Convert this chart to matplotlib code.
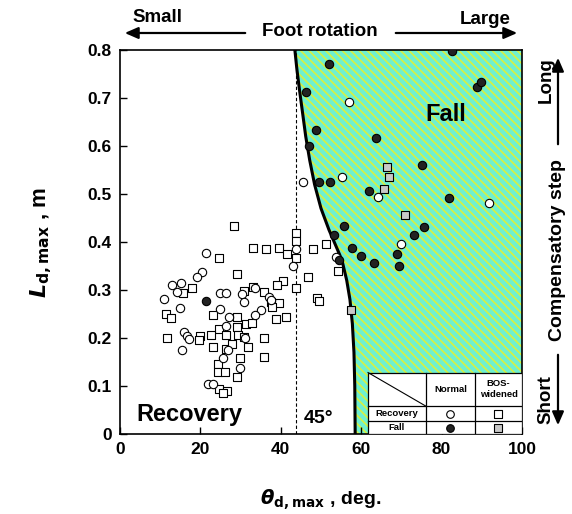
import matplotlib
matplotlib.use("Agg")
import matplotlib.pyplot as plt
from matplotlib.patches import Rectangle, FancyArrowPatch

plt.rcParams['font.family'] = ['Liberation Sans', 'DejaVu Sans']
plt.rcParams['font.weight'] = 'bold'
plt.rcParams['hatch.linewidth'] = 1.2

# ---- data ----
rec_norm_theta = [21.4, 20.3, 19.2, 15.2, 12.9, 14.1, 24.9, 26.4, 30.3, 33.6, 10.9, 14.9, 30.9, 37.1,
                  37.5, 24.9, 27.2, 35.0, 33.6, 26.4, 15.8, 16.6, 17.2, 31.1, 15.3, 26.9, 25.5, 29.8,
                  21.8, 23.2, 43.9, 43.1, 53.7, 56.9, 55.2, 45.6, 64.3, 91.9, 70.0]
rec_norm_L = [0.378, 0.338, 0.328, 0.315, 0.310, 0.295, 0.293, 0.294, 0.292, 0.305, 0.281, 0.263, 0.274, 0.285,
              0.279, 0.260, 0.243, 0.258, 0.248, 0.225, 0.213, 0.204, 0.197, 0.199, 0.174, 0.175, 0.159, 0.138,
              0.104, 0.104, 0.385, 0.349, 0.368, 0.692, 0.536, 0.526, 0.494, 0.481, 0.396]

rec_bos_theta = [28.4, 24.7, 33.0, 36.3, 39.6, 41.5, 43.8, 43.8, 43.8, 48.1, 51.2, 54.2, 46.8, 40.5,
                 43.8, 48.9, 49.5, 41.3, 29.2, 17.8, 15.6, 30.9, 33.0, 35.8, 39.0, 37.5, 39.6, 37.7,
                 23.2, 29.0, 38.8, 11.4, 12.6, 24.7, 29.2, 31.3, 32.8, 11.6, 19.9, 19.7, 22.6, 26.4,
                 29.4, 30.9, 35.8, 23.1, 26.4, 27.8, 31.8, 29.9, 35.9, 24.5, 24.5, 26.2, 29.0, 24.7,
                 26.5, 25.7]
rec_bos_L = [0.434, 0.366, 0.388, 0.385, 0.388, 0.374, 0.419, 0.402, 0.366, 0.385, 0.396, 0.340, 0.328, 0.319,
             0.305, 0.284, 0.277, 0.243, 0.333, 0.305, 0.293, 0.297, 0.307, 0.295, 0.311, 0.274, 0.272, 0.265,
             0.248, 0.244, 0.239, 0.251, 0.241, 0.218, 0.222, 0.229, 0.231, 0.201, 0.204, 0.196, 0.206, 0.206,
             0.206, 0.203, 0.201, 0.181, 0.178, 0.188, 0.181, 0.159, 0.160, 0.146, 0.130, 0.130, 0.119, 0.094,
             0.090, 0.086]

fall_norm_theta = [21.4, 82.7, 52.1, 46.3, 88.7, 89.8, 48.8, 63.6, 47.1, 49.6, 52.3, 75.0, 62.0, 81.9,
                   55.6, 53.3, 57.6, 60.0, 54.5, 63.3, 68.8, 69.5, 73.2, 75.6]
fall_norm_L = [0.277, 0.797, 0.771, 0.713, 0.722, 0.733, 0.633, 0.617, 0.601, 0.524, 0.524, 0.560, 0.507, 0.492,
               0.433, 0.415, 0.387, 0.371, 0.3625, 0.356, 0.375, 0.349, 0.415, 0.431]

fall_bos_theta = [66.3, 66.9, 65.7, 70.8, 57.4]
fall_bos_L = [0.557, 0.536, 0.510, 0.456, 0.258]

boundary_theta = [43.5, 44.0, 44.6, 45.4, 46.2, 47.2, 48.4, 50.0, 52.0, 53.8, 55.2, 56.4, 57.2, 57.8, 58.2, 58.4, 58.5]
boundary_L = [0.80, 0.76, 0.72, 0.67, 0.62, 0.57, 0.52, 0.47, 0.425, 0.39, 0.3625, 0.32, 0.28, 0.23, 0.17, 0.10, 0.0]

xticks = [0, 20, 40, 60, 80, 100]
yticks = [0, 0.1, 0.2, 0.3, 0.4, 0.5, 0.6, 0.7, 0.8]
ytick_labels = ['0', '0.1', '0.2', '0.3', '0.4', '0.5', '0.6', '0.7', '0.8']

# ---- figure ----
fig = plt.figure(figsize=(5.72, 5.14), dpi=100)
ax = fig.add_axes([120/572, 80/514, 402/572, 384/514])
ax.set_xlim(0, 100)
ax.set_ylim(0, 0.8)

ax.fill_betweenx(boundary_L, boundary_theta, 100, facecolor='#6EF0D0', edgecolor='#D8F040',
                 hatch='\\\\\\\\', linewidth=0, zorder=0)
ax.plot(boundary_theta, boundary_L, color='black', lw=2.2, zorder=3)
ax.plot([43.7, 43.7], [0, 0.8], color='black', lw=0.8, ls=(0, (3, 2)), zorder=1)

ms = 36
ax.scatter(rec_bos_theta, rec_bos_L, marker='s', s=ms, facecolor='white', edgecolor='black', linewidth=0.8, zorder=4)
ax.scatter(rec_norm_theta, rec_norm_L, marker='o', s=ms, facecolor='white', edgecolor='black', linewidth=0.8, zorder=4)
ax.scatter(fall_bos_theta, fall_bos_L, marker='s', s=ms, facecolor='#C8C8C8', edgecolor='black', linewidth=0.8, zorder=4)
ax.scatter(fall_norm_theta, fall_norm_L, marker='o', s=ms, facecolor='#222222', edgecolor='black', linewidth=0.8, zorder=4)

ax.set_xticks(xticks)
ax.set_xticklabels([str(v) for v in xticks])
ax.set_yticks(yticks)
ax.set_yticklabels(ytick_labels)
ax.tick_params(direction='in', length=5, width=1, labelsize=12.5, pad=6)
for lab in ax.get_xticklabels() + ax.get_yticklabels():
    lab.set_fontweight('bold')
for s in ax.spines.values():
    s.set_linewidth(1.2)

ax.text(17.2, 0.04, 'Recovery', fontsize=17, fontweight='bold', ha='center', va='center', zorder=6)
ax.text(49.3, 0.033, '45°', fontsize=14, fontweight='bold', ha='center', va='center', zorder=6)
ax.text(81.0, 0.666, 'Fall', fontsize=17, fontweight='bold', ha='center', va='center', zorder=6)

# ---- legend table ----
tx = [61.7, 76.1, 88.3, 100.0]
ty = [0.128, 0.058, 0.027, 0.0]
ax.add_patch(Rectangle((tx[0], ty[3]), tx[3]-tx[0], ty[0]-ty[3], facecolor='white', edgecolor='black', lw=0.9, zorder=7))
for xv in tx[1:3]:
    ax.plot([xv, xv], [ty[3], ty[0]], color='black', lw=0.9, zorder=8)
for yv in ty[1:3]:
    ax.plot([tx[0], tx[3]], [yv, yv], color='black', lw=0.9, zorder=8)
ax.plot([tx[0], tx[1]], [ty[0], ty[1]], color='black', lw=0.8, zorder=8)
cx = [(tx[i]+tx[i+1])/2 for i in range(3)]
cy = [(ty[i]+ty[i+1])/2 for i in range(3)]
ax.text(cx[1], cy[0], 'Normal', fontsize=6.8, fontweight='bold', ha='center', va='center', zorder=9)
ax.text(cx[2], cy[0], 'BOS-\nwidened', fontsize=6.8, fontweight='bold', ha='center', va='center', zorder=9, linespacing=1.3)
ax.text(cx[0], cy[1], 'Recovery', fontsize=6.8, fontweight='bold', ha='center', va='center', zorder=9)
ax.text(cx[0], cy[2], 'Fall', fontsize=6.8, fontweight='bold', ha='center', va='center', zorder=9)
ax.scatter([cx[1]], [cy[1]], marker='o', s=30, facecolor='white', edgecolor='black', lw=0.8, zorder=9, clip_on=False)
ax.scatter([cx[2]], [cy[1]], marker='s', s=30, facecolor='white', edgecolor='black', lw=0.8, zorder=9, clip_on=False)
ax.scatter([cx[1]], [cy[2]], marker='o', s=30, facecolor='#222222', edgecolor='black', lw=0.8, zorder=9, clip_on=False)
ax.scatter([cx[2]], [cy[2]], marker='s', s=30, facecolor='#C8C8C8', edgecolor='black', lw=0.8, zorder=9, clip_on=False)

# ---- axis labels ----
ax.set_xlabel(r'$\boldsymbol{\theta}_{\mathbf{d,max}}$ , deg.', fontsize=14, fontweight='bold', labelpad=22)
ax.set_ylabel(r'$\boldsymbol{L}_{\mathbf{d,max}}$ , m', fontsize=16, fontweight='bold', labelpad=24)

# ---- annotations outside ----
fig.text(157/572, 1 - 18/514, 'Small', fontsize=13.5, fontweight='bold', ha='center', va='center')
fig.text(485/572, 1 - 19/514, 'Large', fontsize=13.5, fontweight='bold', ha='center', va='center')
fig.text(320/572, 1 - 32/514, 'Foot rotation', fontsize=13.5, fontweight='bold', ha='center', va='center')
for (x0, x1) in [(248, 122), (393, 520)]:
    fig.patches.append(FancyArrowPatch((x0/572, 1 - 33/514), (x1/572, 1 - 33/514), transform=fig.transFigure,
                                       arrowstyle='-|>,head_length=8,head_width=3.5', color='black', lw=1.6))
fig.text(546/572, 1 - 80/514, 'Long', fontsize=13.5, fontweight='bold', ha='center', va='center', rotation=90)
fig.text(546/572, 1 - 400/514, 'Short', fontsize=13.5, fontweight='bold', ha='center', va='center', rotation=90)
fig.text(557/572, 1 - 250/514, 'Compensatory step', fontsize=14, fontweight='bold', ha='center', va='center', rotation=90)
for (y0, y1) in [(147, 55), (352, 428)]:
    fig.patches.append(FancyArrowPatch((558/572, 1 - y0/514), (558/572, 1 - y1/514), transform=fig.transFigure,
                                       arrowstyle='-|>,head_length=8,head_width=3.5', color='black', lw=1.6))

fig.savefig('out.png', dpi=100)
